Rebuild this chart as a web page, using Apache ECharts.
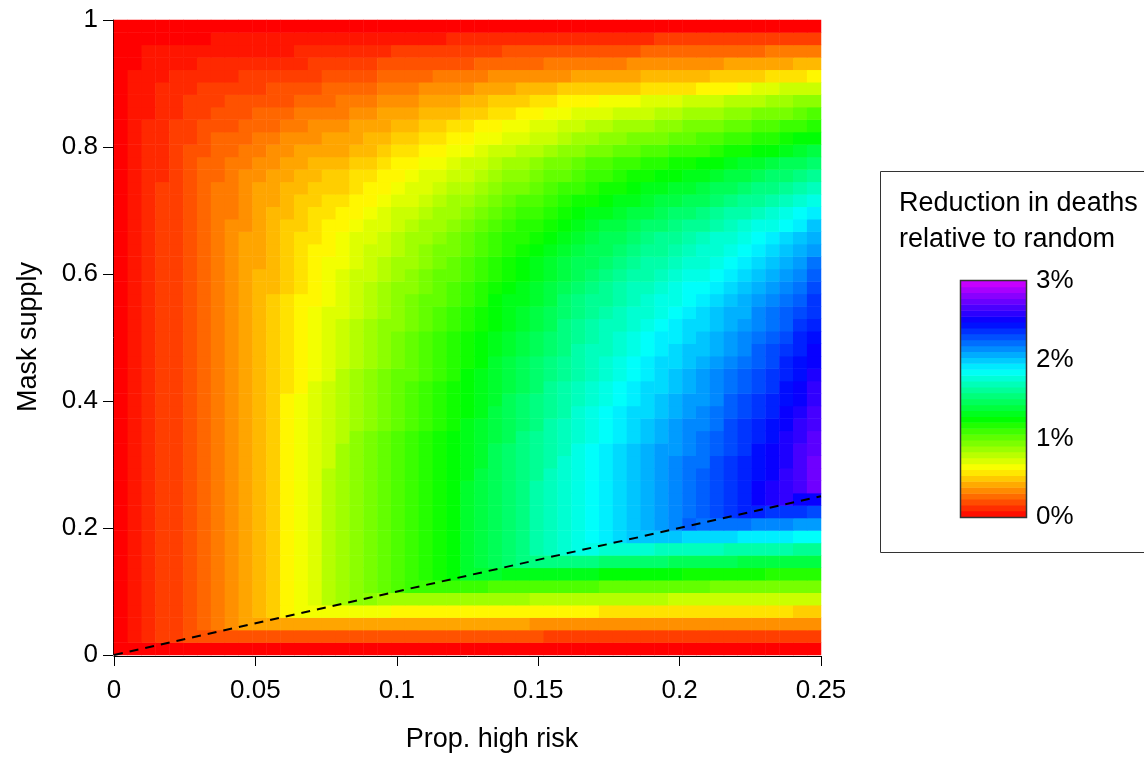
<!DOCTYPE html>
<html>
<head>
<meta charset="utf-8">
<title>Reduction in deaths relative to random</title>
<script src="https://cdn.jsdelivr.net/npm/echarts@6/dist/echarts.min.js"></script>
<style>
  html, body { margin: 0; padding: 0; background: #fff; }
  #chart { width: 1144px; height: 757px; }
</style>
</head>
<body>
<div id="chart"></div>
<script>
// grid of the model run: proportion high risk (x) and mask supply (y)
var propHighRisk = [0, 0.005, 0.01, 0.015, 0.02, 0.025, 0.03, 0.035, 0.04, 0.045, 0.05, 0.055, 0.06, 0.065, 0.07, 0.075, 0.08, 0.085, 0.09, 0.095, 0.1, 0.105, 0.11, 0.115, 0.12, 0.125, 0.13, 0.135, 0.14, 0.145, 0.15, 0.155, 0.16, 0.165, 0.17, 0.175, 0.18, 0.185, 0.19, 0.195, 0.2, 0.205, 0.21, 0.215, 0.22, 0.225, 0.23, 0.235, 0.24, 0.245, 0.25];
var maskSupply = [0, 0.02, 0.04, 0.06, 0.08, 0.1, 0.12, 0.14, 0.16, 0.18, 0.2, 0.22, 0.24, 0.26, 0.28, 0.3, 0.32, 0.34, 0.36, 0.38, 0.4, 0.42, 0.44, 0.46, 0.48, 0.5, 0.52, 0.54, 0.56, 0.58, 0.6, 0.62, 0.64, 0.66, 0.68, 0.7, 0.72, 0.74, 0.76, 0.78, 0.8, 0.82, 0.84, 0.86, 0.88, 0.9, 0.92, 0.94, 0.96, 0.98, 1];

var xTicks = [0, 0.05, 0.1, 0.15, 0.2, 0.25];
var yTicks = [0, 0.2, 0.4, 0.6, 0.8, 1];
var legendTicks = [0, 1, 2, 3];           // percent
var diagonal = [[0, 0], [0.25, 0.25]];    // mask supply = prop. high risk

// reduction in deaths, in steps of 0.05 percentage points
// one row per mask supply value (first row = 0), one column per prop. high risk value
var reductionSteps = [
  [0,0,0,0,0,0,0,0,0,0, 0,0,0,0,0,0,0,0,0,0, 0,0,0,0,0,0,0,0,0,0, 0,0,0,0,0,0,0,0,0,0, 0,0,0,0,0,0,0,0,0,0, 0],
  [0,1,2,3,3,4,4,4,4,4, 4,4,4,4,4,4,4,4,4,4, 4,4,4,4,4,4,4,4,4,4, 4,3,3,3,3,3,3,3,3,3, 3,3,3,3,3,3,3,3,3,3, 3],
  [0,1,2,3,3,4,5,6,7,8, 8,8,8,8,8,8,8,8,8,8, 8,8,8,8,8,8,8,8,8,8, 7,7,7,7,7,7,7,7,7,7, 7,7,7,7,7,7,7,7,7,7, 7],
  [0,1,2,3,3,4,5,6,7,8, 9,10,12,13,13,13,13,13,13,13, 12,12,12,12,12,12,12,12,12,12, 12,12,12,12,12,11,11,11,11,11, 11,11,11,11,11,11,11,11,11,10, 10],
  [0,1,2,3,3,4,5,6,7,8, 9,10,12,13,14,16,17,18,18,17, 17,17,17,17,17,17,17,17,17,17, 16,16,16,16,16,16,16,16,16,16, 15,15,15,15,15,15,15,15,15,15, 15],
  [0,1,2,3,3,4,5,6,7,8, 9,10,12,13,14,16,17,18,19,20, 21,22,22,22,22,22,22,21,21,21, 21,21,21,21,21,20,20,20,20,20, 20,20,20,19,19,19,19,19,19,19, 19],
  [0,1,2,3,3,4,5,6,7,8, 9,10,12,13,14,16,17,18,19,20, 21,22,23,24,25,27,27,27,26,26, 26,26,26,26,26,25,25,25,25,25, 25,24,24,24,24,24,24,23,23,23, 23],
  [0,1,2,3,3,4,5,6,7,8, 9,10,12,13,14,16,17,18,19,20, 21,22,23,24,25,27,28,29,30,31, 31,31,31,31,31,30,30,30,30,30, 29,29,29,29,29,28,28,28,28,28, 28],
  [0,1,2,3,3,4,5,6,7,8, 9,10,12,13,14,16,17,18,19,20, 21,22,23,24,25,27,28,29,30,31, 33,34,35,36,36,35,35,35,35,34, 34,34,34,34,33,33,33,33,33,32, 32],
  [0,1,2,3,3,4,5,6,7,8, 9,10,12,13,14,16,17,18,19,20, 21,22,23,24,25,27,28,29,30,31, 33,34,35,36,37,38,39,40,40,40, 40,39,39,39,39,38,38,38,38,37, 37],
  [0,1,2,3,3,4,5,6,7,8, 9,10,12,13,14,16,17,18,19,20, 21,22,23,24,25,27,28,29,30,31, 33,34,35,36,37,38,39,40,41,42, 43,45,44,44,44,44,43,43,43,42, 42],
  [0,1,2,3,3,4,5,6,7,8, 9,10,12,13,14,16,17,18,19,20, 21,22,23,24,25,27,28,29,30,31, 33,34,35,36,37,38,39,40,41,42, 43,44,45,46,47,48,48,47,47,47, 46],
  [0,1,2,3,3,4,5,6,7,8, 9,10,12,13,14,16,17,18,19,20, 21,22,23,24,25,27,28,29,30,31, 33,34,35,36,37,38,39,40,41,42, 43,44,45,46,47,48,50,51,52,50, 50],
  [0,1,2,3,3,4,5,6,7,8, 9,10,12,13,14,16,17,18,19,20, 21,22,23,24,25,27,28,29,30,31, 33,34,35,36,37,38,39,40,41,42, 43,44,45,46,47,48,50,51,52,53, 55],
  [0,1,2,3,3,4,5,6,7,8, 9,10,12,13,14,16,17,18,19,20, 21,22,23,24,25,26,28,29,30,31, 32,34,35,36,37,38,39,40,41,42, 43,44,45,46,47,48,49,50,52,53, 55],
  [0,1,2,3,3,4,5,6,7,8, 9,10,12,13,14,15,17,18,19,20, 21,22,23,24,25,26,27,29,30,31, 32,33,35,36,37,38,39,40,41,42, 43,44,44,46,47,48,49,50,51,53, 55],
  [0,1,2,3,3,4,5,6,7,8, 9,10,12,13,14,15,17,18,19,20, 21,22,23,24,25,26,27,29,30,31, 32,33,34,36,37,38,39,40,41,42, 42,43,44,45,46,47,49,50,51,53, 54],
  [0,1,2,3,3,4,5,6,7,8, 9,10,12,13,14,15,16,18,19,20, 21,22,23,24,25,26,27,28,29,31, 32,33,34,35,36,37,38,39,40,41, 42,43,44,45,46,47,48,49,51,52, 54],
  [0,1,2,3,3,4,5,6,7,8, 9,10,12,13,14,15,16,17,18,19, 20,21,22,23,24,26,27,28,29,30, 31,33,34,35,36,37,38,39,40,41, 42,43,43,44,46,47,48,49,50,52, 53],
  [0,1,2,3,3,4,5,6,7,8, 9,10,12,13,14,15,16,17,18,19, 20,21,22,23,24,25,26,28,29,30, 31,32,33,35,36,37,38,39,39,40, 41,42,43,44,45,46,47,48,50,51, 53],
  [0,1,2,3,3,4,5,6,7,8, 9,10,12,13,14,15,16,17,18,19, 20,21,22,23,24,25,26,27,29,30, 31,32,33,34,35,36,37,38,39,40, 41,42,42,43,45,46,47,48,49,50, 52],
  [0,1,2,3,3,4,5,6,7,8, 9,10,11,12,14,15,16,17,18,19, 20,21,22,23,24,25,26,27,28,29, 30,32,33,34,35,36,37,38,39,39, 40,41,42,43,44,45,46,47,49,50, 52],
  [0,1,2,3,3,4,5,6,7,8, 9,10,11,12,13,14,16,17,18,19, 20,20,21,22,23,25,26,27,28,29, 30,31,32,33,34,35,36,37,38,39, 40,41,42,43,44,45,46,47,48,49, 51],
  [0,1,2,3,3,4,5,6,7,8, 9,10,11,12,13,14,15,16,17,18, 19,20,21,22,23,24,25,27,28,29, 30,31,32,33,34,35,36,37,38,39, 39,40,41,42,43,44,45,46,48,49, 50],
  [0,1,2,3,3,4,5,6,7,8, 9,10,11,12,13,14,15,16,17,18, 19,20,21,22,23,24,25,26,27,28, 29,30,31,33,34,34,35,36,37,38, 39,40,40,41,42,43,45,46,47,48, 50],
  [0,1,2,3,3,4,5,6,7,8, 9,10,11,12,13,14,15,16,17,18, 19,20,21,22,23,24,25,26,27,28, 29,30,31,32,33,34,35,36,37,38, 38,39,40,41,42,43,44,45,46,48, 49],
  [0,1,2,3,3,4,5,6,7,8, 9,10,11,12,13,14,15,16,17,18, 18,19,20,21,22,23,24,25,26,27, 28,29,31,32,33,34,34,35,36,37, 38,39,39,40,41,42,43,44,45,47, 48],
  [0,1,2,3,3,4,5,6,7,8, 9,10,11,12,13,14,14,15,16,17, 18,19,20,21,22,23,24,25,26,27, 28,29,30,31,32,33,34,35,35,36, 37,38,39,40,41,41,43,44,45,46, 47],
  [0,1,2,3,3,4,5,6,7,8, 9,10,11,12,12,13,14,15,16,17, 18,19,20,20,21,22,23,25,26,26, 27,28,30,31,32,32,33,34,35,36, 36,37,38,39,40,41,42,43,44,45, 47],
  [0,1,2,3,3,4,5,6,7,8, 9,9,10,11,12,13,14,15,16,17, 18,18,19,20,21,22,23,24,25,26, 27,28,29,30,31,32,33,34,34,35, 36,37,37,38,39,40,41,42,43,44, 46],
  [0,1,2,3,3,4,5,6,7,8, 9,9,10,11,12,13,14,15,15,16, 17,18,19,20,20,21,22,23,24,25, 26,27,28,29,30,31,32,33,33,34, 35,36,36,37,38,39,40,41,42,43, 45],
  [0,1,2,3,3,4,5,6,7,8, 8,9,10,11,12,13,13,14,15,16, 17,17,18,19,20,21,22,23,24,25, 26,27,28,29,29,30,31,32,33,33, 34,35,35,36,37,38,39,40,41,42, 44],
  [0,1,2,3,3,4,5,6,7,8, 8,9,10,11,12,12,13,14,15,15, 16,17,18,19,19,20,21,22,23,24, 25,26,27,28,29,29,30,31,32,32, 33,34,35,35,36,37,38,39,40,41, 42],
  [0,1,2,3,3,4,5,6,7,8, 8,9,10,11,11,12,13,14,14,15, 16,17,17,18,19,20,21,22,23,23, 24,25,26,27,28,29,29,30,31,32, 32,33,34,35,35,36,37,38,39,40, 41],
  [0,1,2,3,3,4,5,6,7,7, 8,9,10,10,11,12,12,13,14,14, 15,16,17,17,18,19,20,21,22,23, 23,24,25,26,27,28,28,29,30,30, 31,32,32,33,34,35,36,36,37,38, 40],
  [0,1,2,3,3,4,5,6,6,7, 8,9,9,10,11,11,12,12,13,14, 15,15,16,17,17,18,19,20,21,22, 22,23,24,25,26,26,27,28,28,29, 30,30,31,32,33,33,34,35,36,37, 38],
  [0,1,2,3,3,4,5,6,6,7, 8,8,9,10,10,11,11,12,12,13, 14,14,15,16,17,17,18,19,20,21, 21,22,23,24,24,25,26,26,27,28, 28,29,29,30,31,32,32,33,34,35, 36],
  [0,1,2,3,3,4,5,6,6,7, 8,8,9,9,10,10,10,11,12,12, 13,14,14,15,16,16,17,18,19,19, 20,21,22,22,23,24,24,25,26,26, 27,27,28,29,29,30,31,31,32,33, 34],
  [0,1,2,2,3,4,5,5,6,7, 7,8,8,9,9,10,10,11,11,12, 12,13,14,14,15,15,16,17,18,18, 19,20,20,21,22,22,23,24,24,25, 25,26,26,27,28,28,29,30,30,31, 32],
  [0,1,2,2,3,4,5,5,6,6, 7,7,8,8,9,9,9,10,10,11, 12,12,13,13,14,15,15,16,17,17, 18,19,19,20,21,21,22,22,23,23, 24,24,25,25,26,27,27,28,29,29, 30],
  [0,1,2,2,3,4,4,5,5,6, 6,7,7,8,8,8,8,9,9,10, 11,11,12,12,13,13,14,15,15,16, 16,17,18,18,19,19,20,20,21,21, 22,22,22,23,24,24,25,25,26,27, 28],
  [0,1,2,2,3,3,4,5,5,5, 6,6,7,7,7,8,8,8,9,9, 10,10,11,11,12,12,13,13,14,14, 15,15,16,17,17,18,18,19,19,19, 20,20,21,21,22,22,23,23,24,25, 25],
  [0,1,2,2,3,3,4,4,4,5, 5,5,6,6,7,7,7,8,8,8, 9,9,10,10,11,11,12,12,13,13, 14,14,15,15,16,16,17,17,17,18, 18,19,19,19,20,20,21,21,22,22, 23],
  [0,1,1,2,2,3,3,4,4,4, 5,5,5,6,6,6,6,7,7,8, 8,8,9,9,9,10,10,11,11,12, 12,13,13,14,14,14,15,15,15,16, 16,17,17,17,18,18,19,19,19,20, 21],
  [0,1,1,2,2,3,3,3,4,4, 4,4,4,5,5,5,6,6,6,7, 7,7,8,8,8,9,9,10,10,10, 11,11,12,12,12,13,13,13,14,14, 14,15,15,15,16,16,16,17,17,18, 18],
  [0,1,1,2,2,2,3,3,3,3, 3,4,4,4,4,5,5,5,5,6, 6,6,7,7,7,7,8,8,8,9, 9,9,10,10,10,10,10,10,11,11, 11,11,12,12,12,13,14,14,15,15, 15],
  [0,1,1,1,2,2,2,2,2,3, 3,3,3,3,3,4,4,4,4,5, 5,5,5,6,6,6,6,7,7,7, 7,7,7,8,8,8,8,8,9,9, 9,9,9,10,10,10,10,11,11,11, 12],
  [0,0,1,1,1,1,2,2,2,2, 2,2,2,2,3,3,3,3,3,4, 4,4,4,4,4,4,5,5,5,5, 5,6,6,6,6,6,6,7,7,7, 7,7,7,7,8,8,8,8,8,9, 9],
  [0,0,1,1,1,1,1,1,1,1, 1,1,1,2,2,2,2,2,2,2, 3,3,3,3,3,3,3,3,4,4, 4,4,4,4,4,4,4,4,5,5, 5,5,5,5,5,5,5,6,6,6, 6],
  [0,0,0,0,0,0,0,1,1,1, 1,1,1,1,1,1,1,1,1,1, 1,1,1,1,2,2,2,2,2,2, 2,2,2,2,2,2,2,2,2,3, 3,3,3,3,3,3,3,3,3,3, 3],
  [0,0,0,0,0,0,0,0,0,0, 0,0,0,0,0,0,0,0,0,0, 0,0,0,0,0,0,0,0,0,0, 0,0,0,0,0,0,0,0,0,0, 0,0,0,0,0,0,0,0,0,0, 0]
];

var STEP = 0.05;          // percentage points per step
var LEGEND_BANDS = 40;    // colour bands in the key
var rainbow = ['#ff0000', '#ffff00', '#00ff00', '#00ffff', '#0000ff', '#ff00ff'];
var FONT = '"Liberation Sans", Arial, Helvetica, sans-serif';

// heatmap cells [x index, y index, percent]
var cells = [];
reductionSteps.forEach(function (row, j) {
  row.forEach(function (s, i) {
    cells.push([i, j, +(s * STEP).toFixed(2)]);
  });
});

// colour key bands
var keyIdx = [];
var keyCells = [];
for (var k = 0; k < LEGEND_BANDS; k++) {
  keyIdx.push(String(k));
  keyCells.push([0, k, (k + 0.5) * legendTicks[legendTicks.length - 1] / LEGEND_BANDS]);
}

var chart = echarts.init(document.getElementById('chart'));

var axisLabelStyle = { fontSize: 26, color: '#000', fontFamily: FONT };

function label(text, x, y, align, rotation) {
  return {
    type: 'text', z: 100, silent: true, x: x, y: y, rotation: rotation || 0,
    style: { text: text, font: '27px ' + FONT, fill: '#000',
             align: align, verticalAlign: 'middle', textAlign: align, textVerticalAlign: 'middle' }
  };
}

chart.setOption({
  animation: false,
  backgroundColor: '#fff',
  textStyle: { fontFamily: FONT },
  grid: [
    { left: 114, top: 20, width: 707, height: 635 },
    { left: 961, top: 281, width: 65, height: 236 }
  ],
  xAxis: [
    { type: 'category', gridIndex: 0, data: propHighRisk.map(String), show: false, position: 'top' },
    {
      type: 'value', gridIndex: 0, position: 'bottom', offset: 1,
      min: xTicks[0], max: xTicks[xTicks.length - 1], interval: xTicks[1] - xTicks[0],
      axisLine: { show: true, onZero: false, lineStyle: { color: '#000', width: 1 } },
      axisTick: { show: true, length: 10, lineStyle: { color: '#000', width: 1 } },
      axisLabel: Object.assign({ margin: 22 }, axisLabelStyle),
      splitLine: { show: false }
    },
    { type: 'category', gridIndex: 1, data: ['key'], show: false }
  ],
  yAxis: [
    { type: 'category', gridIndex: 0, data: maskSupply.map(String), show: false, position: 'right' },
    {
      type: 'value', gridIndex: 0, position: 'left', offset: 1,
      min: yTicks[0], max: yTicks[yTicks.length - 1], interval: yTicks[1] - yTicks[0],
      axisLine: { show: true, onZero: false, lineStyle: { color: '#000', width: 1 } },
      axisTick: { show: true, length: 10, lineStyle: { color: '#000', width: 1 } },
      axisLabel: Object.assign({ margin: 15 }, axisLabelStyle),
      splitLine: { show: false }
    },
    { type: 'category', gridIndex: 1, data: keyIdx, show: false },
    {
      type: 'value', gridIndex: 1, position: 'right',
      min: legendTicks[0], max: legendTicks[legendTicks.length - 1], interval: 1,
      axisLine: { show: false },
      axisTick: { show: false },
      axisLabel: Object.assign({ margin: 10, formatter: '{value}%' }, axisLabelStyle),
      splitLine: { show: false }
    }
  ],
  visualMap: {
    type: 'continuous',
    show: false,
    seriesIndex: [0, 2],
    dimension: 2,
    min: 0,
    max: 3.1,
    inRange: { color: rainbow }
  },
  series: [
    {
      name: 'Reduction in deaths',
      type: 'heatmap',
      xAxisIndex: 0,
      yAxisIndex: 0,
      data: cells,
      progressive: 0,
      itemStyle: { borderWidth: 0 },
      emphasis: { disabled: true },
      silent: true
    },
    {
      name: 'Equal supply',
      type: 'line',
      xAxisIndex: 1,
      yAxisIndex: 1,
      data: diagonal,
      symbol: 'none',
      z: 5,
      silent: true,
      lineStyle: { color: '#000', width: 2, type: [9, 7] }
    },
    {
      name: 'Key',
      type: 'heatmap',
      xAxisIndex: 2,
      yAxisIndex: 2,
      data: keyCells,
      progressive: 0,
      itemStyle: { borderWidth: 0 },
      emphasis: { disabled: true },
      silent: true
    }
  ],
  graphic: [
    {
      type: 'rect', z: 100, silent: true,
      shape: { x: 880.5, y: 171.5, width: 320, height: 381 },
      style: { fill: 'none', stroke: '#333', lineWidth: 1 }
    },
    {
      type: 'rect', z: 100, silent: true,
      shape: { x: 960.5, y: 280.5, width: 66, height: 237 },
      style: { fill: 'none', stroke: '#333', lineWidth: 1.5 }
    },
    label('Reduction in deaths', 899, 204, 'left'),
    label('relative to random', 899, 240, 'left'),
    label('Prop. high risk', 492, 740, 'center'),
    label('Mask supply', 29, 337, 'center', Math.PI / 2)
  ]
});
</script>
</body>
</html>
